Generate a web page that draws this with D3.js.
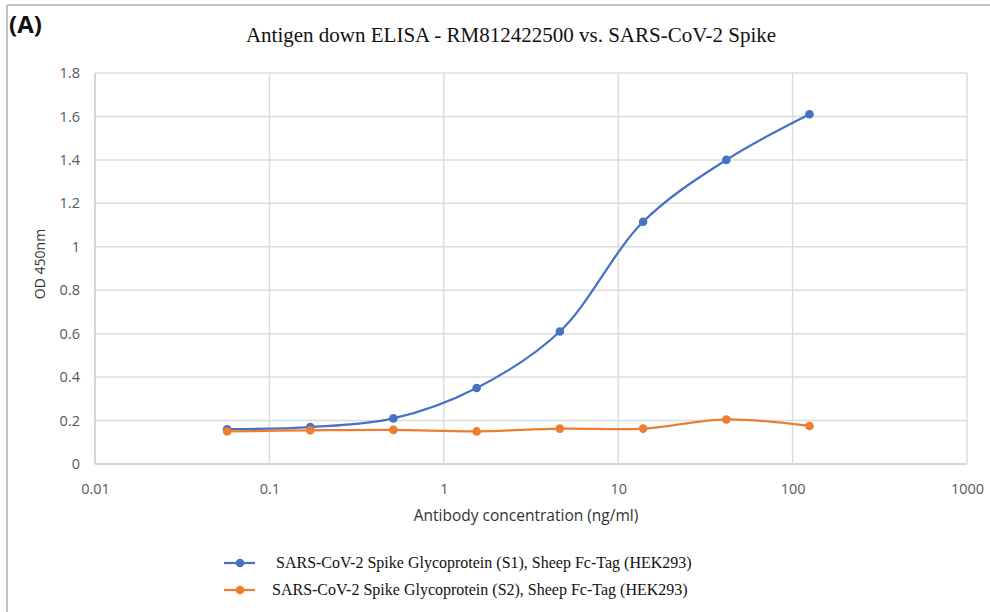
<!DOCTYPE html>
<html>
<head>
<meta charset="utf-8">
<script src="https://cdn.jsdelivr.net/npm/d3@7"></script>
<style>
  body { margin: 0; background: #fff; }
  svg { display: block; }
</style>
</head>
<body>
<svg id="viz"></svg>
<script>
const width = 990;
const height = 612;
const svg = d3.select("#viz").attr("width", width).attr("height", height);

// antibody concentration (ng/ml), 3-fold dilutions
const concentrations = [0.0572, 0.1715, 0.514, 1.543, 4.63, 13.9, 41.7, 125];
const s1Values = [0.16, 0.17, 0.21, 0.35, 0.61, 1.115, 1.40, 1.61];
const s2Values = [0.15, 0.155, 0.157, 0.15, 0.163, 0.163, 0.205, 0.175];
const xTicks = [0.01, 0.1, 1, 10, 100, 1000];
const yTicks = [0, 0.2, 0.4, 0.6, 0.8, 1, 1.2, 1.4, 1.6, 1.8];
const seriesNames = [
  " SARS-CoV-2 Spike Glycoprotein (S1), Sheep Fc-Tag (HEK293)",
  "SARS-CoV-2 Spike Glycoprotein (S2), Sheep Fc-Tag (HEK293)"
];
const colors = ["#4472C4", "#ED7D31"];

const margin = { left: 95, right: 23, top: 73, bottom: 148 };

const x = d3.scaleLog().domain([0.01, 1000]).range([margin.left, width - margin.right]);
const y = d3.scaleLinear().domain([0, 1.8]).range([height - margin.bottom, margin.top]);

// frame of the screenshot
svg.append("line").attr("x1", 7).attr("x2", width).attr("y1", 5).attr("y2", 5)
  .attr("stroke", "#b0b0b0").attr("stroke-width", 1.5);
svg.append("line").attr("x1", 7).attr("x2", 7).attr("y1", 5).attr("y2", height)
  .attr("stroke", "#b0b0b0").attr("stroke-width", 1.5);

svg.append("text").attr("x", 9).attr("y", 33)
  .attr("font-family", "Open Sans, sans-serif").attr("font-weight", "bold")
  .attr("font-size", 24).attr("fill", "#111").text("(A)");

svg.append("text").attr("x", 511).attr("y", 42).attr("text-anchor", "middle")
  .attr("font-family", "Liberation Serif, serif").attr("font-size", 21)
  .attr("fill", "#111").text("Antigen down ELISA - RM812422500 vs. SARS-CoV-2 Spike");

// gridlines
svg.append("g").selectAll("line").data(yTicks).join("line")
  .attr("x1", x.range()[0]).attr("x2", x.range()[1])
  .attr("y1", d => y(d)).attr("y2", d => y(d))
  .attr("stroke", d => d === 0 ? "#c8c8c8" : "#dcdcdc").attr("stroke-width", 1.5);
svg.append("g").selectAll("line").data(xTicks).join("line")
  .attr("x1", d => x(d)).attr("x2", d => x(d))
  .attr("y1", y.range()[0]).attr("y2", y.range()[1])
  .attr("stroke", d => d === 0.01 ? "#c8c8c8" : "#dcdcdc").attr("stroke-width", 1.5);

// axes (labels only)
const yAxis = svg.append("g").attr("transform", `translate(${margin.left},0)`)
  .call(d3.axisLeft(y).tickValues(yTicks).tickSize(0).tickPadding(15).tickFormat(d3.format("~g")));
const xAxis = svg.append("g").attr("transform", `translate(0,${y(0)})`)
  .call(d3.axisBottom(x).tickValues(xTicks).tickSize(0).tickPadding(20).tickFormat(d3.format("~g")));
[xAxis, yAxis].forEach(a => {
  a.select(".domain").remove();
  a.selectAll("text").attr("font-family", "Open Sans, sans-serif")
    .attr("font-size", 14.5).attr("fill", "#595959");
});

svg.append("text").attr("transform", "translate(45,264) rotate(-90)")
  .attr("text-anchor", "middle").attr("font-family", "Open Sans, sans-serif")
  .attr("font-size", 14).attr("fill", "#333").text("OD 450nm");
svg.append("text").attr("x", 526).attr("y", 521).attr("text-anchor", "middle")
  .attr("font-family", "Open Sans, sans-serif").attr("font-size", 15.5)
  .attr("fill", "#333").text("Antibody concentration (ng/ml)");

// series
const series = [s1Values, s2Values].map((vals, i) => ({
  name: seriesNames[i],
  color: colors[i],
  points: concentrations.map((c, j) => ({ c, v: vals[j] }))
}));

const line = d3.line().x(d => x(d.c)).y(d => y(d.v)).curve(d3.curveCatmullRom.alpha(0.5));

const g = svg.append("g").selectAll("g").data(series).join("g");
g.append("path").attr("d", d => line(d.points)).attr("fill", "none")
  .attr("stroke", d => d.color).attr("stroke-width", 2.25);
g.selectAll("circle").data(d => d.points.map(p => ({ ...p, color: d.color }))).join("circle")
  .attr("cx", d => x(d.c)).attr("cy", d => y(d.v)).attr("r", 4.3)
  .attr("fill", d => d.color);

// legend
const legend = svg.append("g").selectAll("g").data(series).join("g")
  .attr("transform", (d, i) => `translate(224,${563 + i * 27})`);
legend.append("line").attr("x1", 0).attr("x2", 31).attr("stroke", d => d.color).attr("stroke-width", 2.25);
legend.append("circle").attr("cx", 16).attr("r", 4.3).attr("fill", d => d.color);
legend.append("text").attr("x", 48).attr("y", 5)
  .attr("font-family", "Liberation Serif, serif").attr("font-size", 16)
  .attr("fill", "#111").attr("xml:space", "preserve").style("white-space", "pre")
  .text(d => d.name);
</script>
</body>
</html>
